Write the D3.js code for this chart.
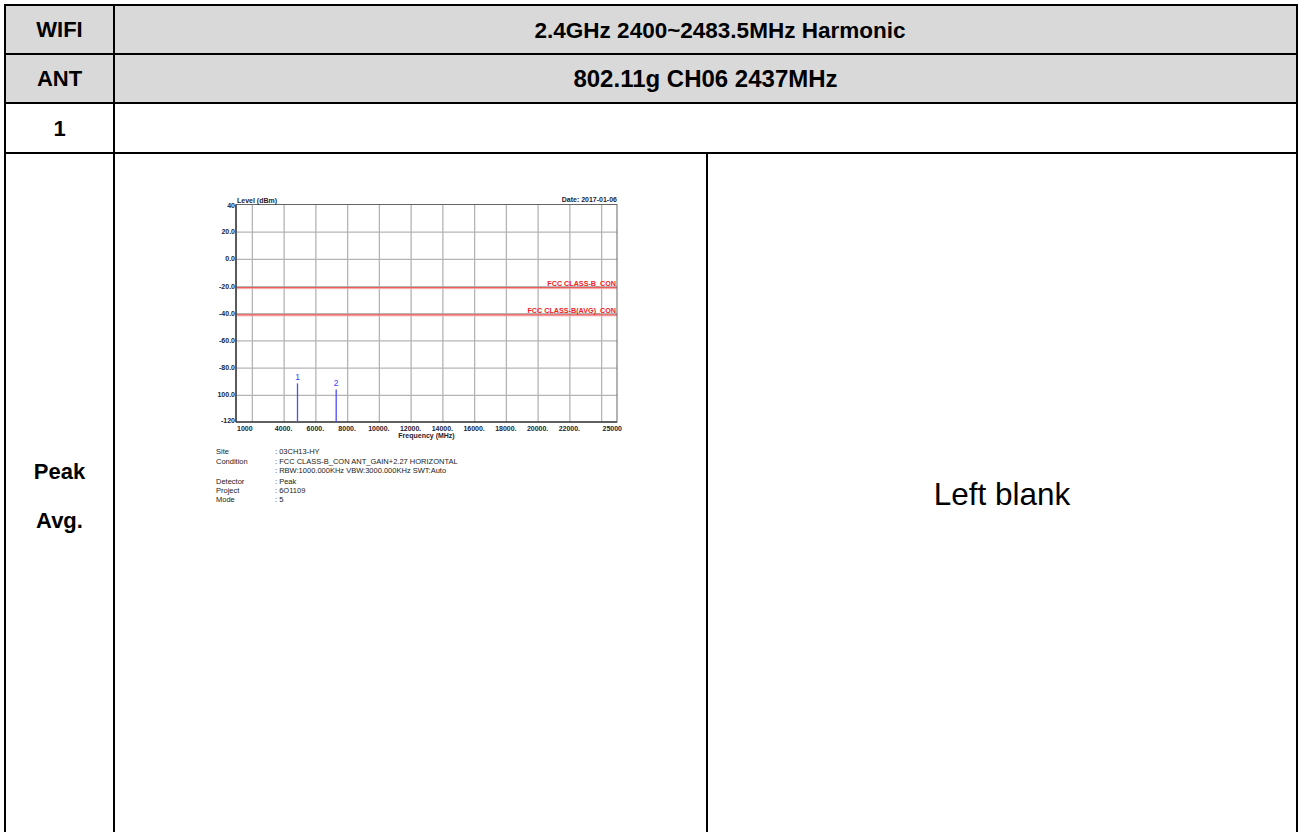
<!DOCTYPE html>
<html><head><meta charset="utf-8">
<script src="https://cdn.jsdelivr.net/npm/d3@7"></script>
<style>
html,body{margin:0;padding:0;background:#fff;}
svg{display:block;}
</style></head>
<body>
<svg id="page" width="1298" height="832"></svg>
<script>
// ---------- data ----------
const headerRows = [
  {label: "WIFI", value: "2.4GHz 2400~2483.5MHz Harmonic"},
  {label: "ANT",  value: "802.11g CH06 2437MHz"},
  {label: "1",    value: ""}
];
const sideLabels = ["Peak", "Avg."];
const blankText = "Left blank";

const yTickValues = [40, 20, 0, -20, -40, -60, -80, -100, -120];
const yTickLabels = ["40", "20.0", "0.0", "-20.0", "-40.0", "-60.0", "-80.0", "100.0", "-120"];
const xGridValues = [2000, 4000, 6000, 8000, 10000, 12000, 14000, 16000, 18000, 20000, 22000, 24000];
const xTickValues = [1000, 4000, 6000, 8000, 10000, 12000, 14000, 16000, 18000, 20000, 22000, 25000];
const xTickLabels = ["1000", "4000.", "6000.", "8000.", "10000.", "12000.", "14000.", "16000.", "18000.", "20000.", "22000.", "25000"];
const limitNames = ["FCC CLASS-B_CON", "FCC CLASS-B(AVG)_CON"];
const limitLevels = [-21.2, -41.2];
const markerIds = ["1", "2"];
const markerFreqs = [4874, 7311];
const markerLevels = [-91.6, -96.0];
const infoKeys = ["Site", "Condition", "", "Detector", "Project", "Mode"];
const infoValues = [": 03CH13-HY", ": FCC CLASS-B_CON ANT_GAIN+2.27 HORIZONTAL",
  ": RBW:1000.000KHz VBW:3000.000KHz SWT:Auto", ": Peak", ": 6O1109", ": 5"];
const chartTitle = "Level (dBm)";
const chartDate = "Date: 2017-01-06";
const xAxisTitle = "Frequency (MHz)";

// ---------- table ----------
const svg = d3.select("#page");
const X0 = 5, X1 = 114, X2 = 707, X3 = 1297;
const rowY = [5, 54, 103, 153];
const Y_END = 840;
const F = "'Liberation Sans', Arial, Helvetica, sans-serif";
const valueStyle = [{size: 22.5, cx: 720}, {size: 24, cx: (X1 + X3) / 2}, {size: 24, cx: (X1 + X3) / 2}];

svg.append("rect").attr("x", X0).attr("y", rowY[0]).attr("width", X3 - X0).attr("height", rowY[2] - rowY[0]).attr("fill", "#d9d9d9");

headerRows.forEach((r, i) => {
  const cy = (rowY[i] + rowY[i + 1]) / 2;
  svg.append("text").attr("x", (X0 + X1) / 2).attr("y", cy).attr("dy", "0.36em")
    .attr("text-anchor", "middle").attr("font-family", F).attr("font-weight", "bold")
    .attr("font-size", 22).attr("fill", "#000").text(r.label);
  if (r.value) svg.append("text").attr("x", valueStyle[i].cx).attr("y", cy).attr("dy", "0.36em")
    .attr("text-anchor", "middle").attr("font-family", F).attr("font-weight", "bold")
    .attr("font-size", valueStyle[i].size).attr("fill", "#000").text(r.value);
});
sideLabels.forEach((t, i) => {
  svg.append("text").attr("x", (X0 + X1) / 2).attr("y", 471 + i * 49).attr("dy", "0.36em")
    .attr("text-anchor", "middle").attr("font-family", F).attr("font-weight", "bold")
    .attr("font-size", 22).attr("fill", "#000").text(t);
});
svg.append("text").attr("x", (X2 + X3) / 2).attr("y", 494).attr("dy", "0.36em")
  .attr("text-anchor", "middle").attr("font-family", F)
  .attr("font-size", 31.5).attr("fill", "#000").text(blankText);

const border = svg.append("g").attr("stroke", "#000").attr("stroke-width", 2);
[X0, X1, X3].forEach(x => border.append("line").attr("x1", x).attr("x2", x).attr("y1", rowY[0] - 1).attr("y2", Y_END));
border.append("line").attr("x1", X2).attr("x2", X2).attr("y1", rowY[3]).attr("y2", Y_END);
rowY.forEach(y => border.append("line").attr("x1", X0 - 1).attr("x2", X3 + 1).attr("y1", y).attr("y2", y));

// ---------- chart ----------
const L = 236, R = 617, T = 204.5, B = 422;
const x = d3.scaleLinear().domain([1000, 25000]).range([L, R]);
const y = d3.scaleLinear().domain([-120, 40]).range([B, T]);
const CF = "Arial, 'Liberation Sans', sans-serif";
const ch = svg.append("g");

ch.append("g").call(d3.axisBottom(x).tickValues(xGridValues).tickSize(-(B - T)).tickFormat(""))
  .attr("transform", `translate(0,${B})`)
  .call(g => g.select(".domain").remove())
  .call(g => g.selectAll("line").attr("stroke", "#b4b4b4").attr("stroke-width", 1.3));
ch.append("g").call(d3.axisLeft(y).tickValues(yTickValues.slice(1, -1)).tickSize(-(R - L)).tickFormat(""))
  .attr("transform", `translate(${L},0)`)
  .call(g => g.select(".domain").remove())
  .call(g => g.selectAll("line").attr("stroke", "#b4b4b4").attr("stroke-width", 1.3));

limitLevels.forEach((v, i) => {
  ch.append("line").attr("x1", L).attr("x2", R).attr("y1", y(v) + 1).attr("y2", y(v) + 1)
    .attr("stroke", "#f7b8b8").attr("stroke-width", 1);
  ch.append("line").attr("x1", L).attr("x2", R).attr("y1", y(v)).attr("y2", y(v))
    .attr("stroke", "#f03a3a").attr("stroke-width", 1);
  ch.append("text").attr("x", R - 1).attr("y", y(v) - 2).attr("text-anchor", "end")
    .attr("font-family", CF).attr("font-weight", "bold").attr("font-size", 7.2)
    .attr("fill", "#f02020").text(limitNames[i]);
});

ch.append("rect").attr("x", L).attr("y", T).attr("width", R - L).attr("height", B - T)
  .attr("fill", "none").attr("stroke", "#666").attr("stroke-width", 1);
ch.append("line").attr("x1", L).attr("x2", L).attr("y1", T).attr("y2", B).attr("stroke", "#444").attr("stroke-width", 1.6);
ch.append("line").attr("x1", L).attr("x2", R).attr("y1", B).attr("y2", B).attr("stroke", "#444").attr("stroke-width", 1.6);

markerFreqs.forEach((f, i) => {
  ch.append("line").attr("x1", x(f)).attr("x2", x(f)).attr("y1", B).attr("y2", y(markerLevels[i]))
    .attr("stroke", "#4b4bff").attr("stroke-width", 1.3);
  ch.append("text").attr("x", x(f)).attr("y", y(markerLevels[i]) - 3).attr("text-anchor", "middle")
    .attr("font-family", CF).attr("font-size", 8.5).attr("fill", "#3a3aff").text(markerIds[i]);
});

yTickValues.forEach((v, i) => {
  const last = i === yTickValues.length - 1, first = i === 0;
  ch.append("text").attr("x", L - 1).attr("y", y(v) + (first ? 1.5 : 0)).attr("dy", last ? "0.2em" : "0.35em")
    .attr("text-anchor", "end").attr("font-family", CF).attr("font-weight", "bold")
    .attr("font-size", 7).attr("fill", "#1c1c30").text(yTickLabels[i]);
});
xTickValues.forEach((v, i) => {
  const first = i === 0, last = i === xTickValues.length - 1;
  ch.append("text").attr("x", x(v) + (first ? 1 : last ? 5 : 0)).attr("y", B + 8.5)
    .attr("text-anchor", first ? "start" : last ? "end" : "middle")
    .attr("font-family", CF).attr("font-weight", "bold").attr("font-size", 7)
    .attr("fill", "#1c1c30").text(xTickLabels[i]);
});
ch.append("text").attr("x", (L + R) / 2).attr("y", B + 16).attr("text-anchor", "middle")
  .attr("font-family", CF).attr("font-weight", "bold").attr("font-size", 7)
  .attr("fill", "#1c1c30").text(xAxisTitle);
ch.append("text").attr("x", L + 1).attr("y", T - 2).attr("font-family", CF).attr("font-weight", "bold")
  .attr("font-size", 7).attr("fill", "#1c1c30").text(chartTitle);
ch.append("text").attr("x", R).attr("y", T - 3).attr("text-anchor", "end").attr("font-family", CF)
  .attr("font-weight", "bold").attr("font-size", 7).attr("fill", "#1c1c30").text(chartDate);

const infoY = [454, 463.5, 473, 483.5, 492.5, 502];
infoKeys.forEach((k, i) => {
  if (k) ch.append("text").attr("x", 216).attr("y", infoY[i]).attr("font-family", CF)
    .attr("font-size", 7.5).attr("fill", "#222").text(k);
  ch.append("text").attr("x", 275).attr("y", infoY[i]).attr("font-family", CF)
    .attr("font-size", 7.5).attr("fill", "#222").text(infoValues[i]);
});
</script>
</body></html>
